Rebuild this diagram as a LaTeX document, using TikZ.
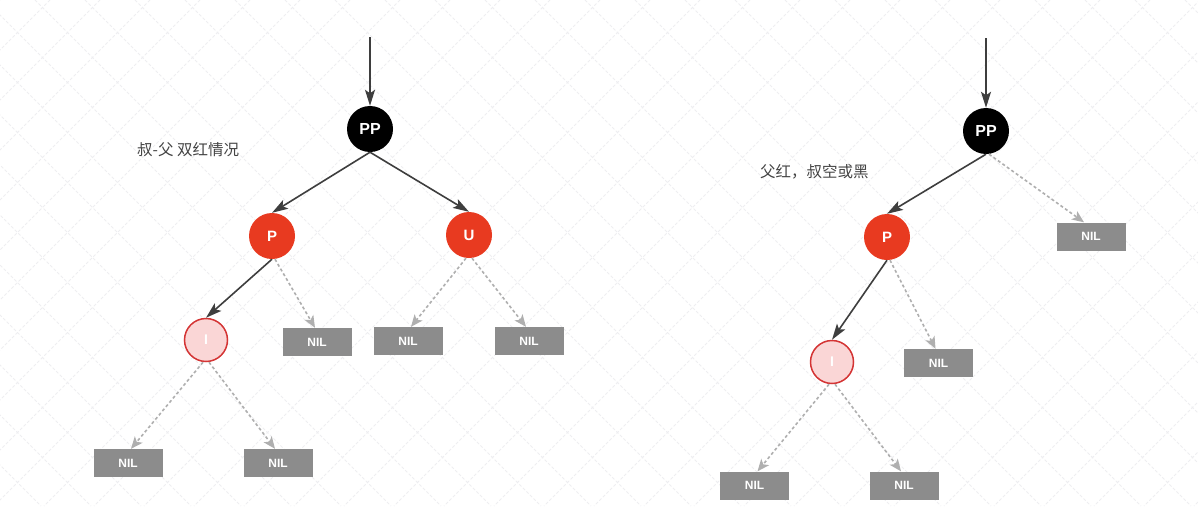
\documentclass[tikz,border=0pt]{standalone}
\usepackage{fontspec}
\setmainfont{Liberation Sans}
\newfontfamily\cjk{Noto Sans CJK SC}
\usetikzlibrary{arrows.meta}
\definecolor{nodered}{RGB}{232,58,32}
\definecolor{pinkfill}{RGB}{250,214,214}
\definecolor{pinkborder}{RGB}{212,52,52}
\definecolor{nilgray}{RGB}{140,140,140}
\definecolor{edgedark}{RGB}{62,62,62}
\definecolor{dashgray}{RGB}{175,175,175}
\definecolor{gridc}{RGB}{238,238,241}
\definecolor{labelc}{RGB}{68,68,68}
\begin{document}
\begin{tikzpicture}[x=1pt,y=-1pt,
  gridline/.style={draw=gridc, line width=0.9pt, dash pattern=on 3pt off 2pt},
  blacknode/.style={circle, fill=black, minimum size=46pt, inner sep=0pt, text=white, font=\bfseries\fontsize{16}{16}\selectfont},
  rednode/.style={circle, fill=nodered, minimum size=46pt, inner sep=0pt, text=white, font=\bfseries\fontsize{15}{15}\selectfont},
  pinknode/.style={circle, fill=pinkfill, draw=pinkborder, line width=1.5pt, minimum size=43pt, inner sep=0pt, text=white, font=\bfseries\fontsize{14}{14}\selectfont},
  nilbox/.style={rectangle, fill=nilgray, minimum width=69pt, minimum height=28pt, inner sep=0pt, text=white, font=\bfseries\fontsize{12}{12}\selectfont},
  solidedge/.style={draw=edgedark, line width=1.6pt, -{Stealth[length=16pt,width=10pt,inset=3.5pt]}},
  dashedge/.style={draw=dashgray, line width=1.6pt, dash pattern=on 3pt off 2.5pt, -{Stealth[length=12pt,width=10pt,inset=3pt]}},
  caption/.style={anchor=west, text=labelc, font=\cjk\fontsize{15.5}{16}\selectfont, inner sep=0pt}
]
\useasboundingbox (0,0) rectangle (1198,506);
\fill[white] (0,0) rectangle (1198,506);
\begin{scope}
  \clip (0,0) rectangle (1198,506);
  \foreach \k in {-12,...,25} { \draw[gridline] (35+50*\k,0) -- (541+50*\k,506); }
  \foreach \k in {0,...,35} { \draw[gridline] (50*\k,0) -- (50*\k-506,506); }
\end{scope}

% ---------- left tree ----------
\coordinate (Ltop) at (370,37);
\node[blacknode] (LPP) at (370,129) {PP};
\node[rednode] (LP) at (272,236) {P};
\node[rednode] (LU) at (469,235) {U};
\node[pinknode] (LI) at (206,340) {I};
\node[nilbox] (Ln1) at (317,342) {NIL};
\node[nilbox] (Ln2) at (408,341) {NIL};
\node[nilbox] (Ln3) at (529,341) {NIL};
\node[nilbox] (Ln4) at (128,463) {NIL};
\node[nilbox] (Ln5) at (278,463) {NIL};
\node[caption] (Lcap) at (137,150) {叔-父 双红情况};

\draw[solidedge] (Ltop) -- (LPP.north);
\draw[solidedge] (LPP.south) -- (LP.north);
\draw[solidedge] (LPP.south) -- (LU.north);
\draw[solidedge] (LP.south) -- (LI.north);
\draw[dashedge] ([xshift=3pt]LP.south) -- ([xshift=-2pt]Ln1.north);
\draw[dashedge] ([xshift=-3pt]LU.south) -- ([xshift=3pt]Ln2.north);
\draw[dashedge] ([xshift=3pt]LU.south) -- ([xshift=-3pt]Ln3.north);
\draw[dashedge] ([xshift=-3pt]LI.south) -- ([xshift=3pt]Ln4.north);
\draw[dashedge] ([xshift=3pt]LI.south) -- ([xshift=-3pt]Ln5.north);

% ---------- right tree ----------
\coordinate (Rtop) at (986,38);
\node[blacknode] (RPP) at (986,131) {PP};
\node[rednode] (RP) at (887,237) {P};
\node[nilbox] (Rn1) at (1091,236.5) {NIL};
\node[pinknode] (RI) at (832,362) {I};
\node[nilbox] (Rn2) at (938.5,363) {NIL};
\node[nilbox] (Rn3) at (754.5,485.5) {NIL};
\node[nilbox] (Rn4) at (904,485.5) {NIL};
\node[caption] (Rcap) at (760,172) {父红，叔空或黑};

\draw[solidedge] (Rtop) -- (RPP.north);
\draw[solidedge] (RPP.south) -- (RP.north);
\draw[solidedge] (RP.south) -- (RI.north);
\draw[dashedge] ([xshift=3pt]RPP.south) -- ([xshift=-7pt]Rn1.north);
\draw[dashedge] ([xshift=3pt]RP.south) -- ([xshift=-3pt]Rn2.north);
\draw[dashedge] ([xshift=-3pt]RI.south) -- ([xshift=3pt]Rn3.north);
\draw[dashedge] ([xshift=3pt]RI.south) -- ([xshift=-3pt]Rn4.north);
\end{tikzpicture}
\end{document}
